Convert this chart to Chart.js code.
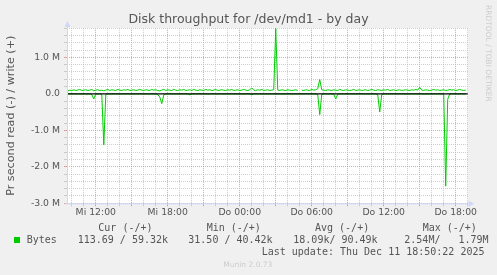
<!DOCTYPE html>
<html>
<head>
<meta charset="utf-8">
<title>Disk throughput for /dev/md1 - by day</title>
<script src="https://cdn.jsdelivr.net/npm/chart.js@4.4.1/dist/chart.umd.min.js"></script>
<style>
  html, body { margin: 0; padding: 0; background: #f0f0f0; }
  #wrap { position: relative; width: 497px; height: 275px; }
</style>
</head>
<body>
<div id="wrap"><canvas id="chart" width="497" height="275"></canvas></div>
<script>
// time axis: hours relative to Do 00:00, one sample every 10 minutes
const startHour = -14.5;
const stepHours = 1 / 6;

const labelHours = [-12, -6, 0, 6, 12, 18];
const labelTexts = ['Mi 12:00', 'Mi 18:00', 'Do 00:00', 'Do 06:00', 'Do 12:00', 'Do 18:00'];

// bytes per second, in M (write = +, read = -)
const writeValues = [
  0.07, 0.08, 0.10, 0.09, 0.11, 0.09, 0.10, 0.12, 0.09, 0.10,
  0.11, 0.09, 0.10, 0.12, 0.08, 0.10, 0.11, 0.09, 0.10, 0.08,
  0.10, 0.12, 0.09, 0.11, 0.10, 0.09, 0.12, 0.10, 0.09, 0.11,
  0.10, 0.12, 0.09, 0.10, 0.11, 0.09, 0.10, 0.12, 0.10, 0.09,
  0.11, 0.10, 0.09, 0.12, 0.10, 0.11, 0.09, 0.08, 0.10, 0.12,
  0.09, 0.11, 0.10, 0.09, 0.12, 0.10, 0.09, 0.11, 0.10, 0.12,
  0.09, 0.10, 0.11, 0.09, 0.12, 0.10, 0.09, 0.11, 0.10, 0.09,
  0.12, 0.10, 0.11, 0.09, 0.10, 0.12, 0.09, 0.10, 0.11, 0.10,
  0.09, 0.11, 0.10, 0.12, 0.09, 0.10, 0.11, 0.09, 0.10, 0.12,
  0.10, 0.09, 0.11, 0.16, 0.10, 0.09, 0.11, 0.10, 0.12, 0.09,
  0.10, 0.11, 0.09, 0.10, 0.11, 1.79, 0.10, 0.09, 0.11, 0.10,
  0.09, 0.11, 0.10, 0.09, 0.10, 0.11, 0.09, null, 0.10, 0.09,
  0.11, 0.10, 0.09, 0.12, 0.10, 0.11, 0.14, 0.39, 0.11, 0.10,
  0.09, 0.11, 0.10, 0.09, 0.11, 0.10, 0.09, 0.12, 0.10, 0.09,
  0.11, 0.10, 0.09, 0.10, 0.12, 0.09, 0.10, 0.11, 0.09, 0.10,
  0.11, 0.09, 0.10, 0.12, 0.10, 0.09, 0.11, 0.10, 0.09, 0.11,
  0.10, 0.12, 0.09, 0.10, 0.11, 0.09, 0.10, 0.11, 0.09, 0.10,
  0.11, 0.10, 0.09, 0.11, 0.10, 0.12, 0.10, 0.18, 0.10, 0.09,
  0.11, 0.10, 0.09, 0.10, 0.12, 0.10, 0.11, 0.09, 0.10, 0.11,
  0.09, 0.10, 0.12, 0.10, 0.11, 0.09, 0.10, 0.12, 0.10, 0.09,
  0.10
];
const readValues = [
  -0.004, -0.003, -0.005, -0.004, -0.003, -0.004, -0.005, -0.003, -0.004, -0.004,
  -0.003, -0.005, -0.004, -0.02, -0.14, -0.01, -0.004, -0.003, -0.02, -1.40,
  -0.02, -0.004, -0.003, -0.005, -0.004, -0.003, -0.004, -0.005, -0.003, -0.004,
  -0.004, -0.003, -0.005, -0.004, -0.003, -0.004, -0.005, -0.003, -0.004, -0.004,
  -0.003, -0.005, -0.004, -0.003, -0.004, -0.005, -0.02, -0.09, -0.27, -0.03,
  -0.004, -0.003, -0.005, -0.004, -0.003, -0.004, -0.005, -0.003, -0.004, -0.004,
  -0.003, -0.005, -0.03, -0.004, -0.003, -0.004, -0.005, -0.003, -0.004, -0.004,
  -0.004, -0.003, -0.005, -0.004, -0.003, -0.004, -0.005, -0.003, -0.004, -0.004,
  -0.004, -0.003, -0.005, -0.004, -0.003, -0.004, -0.005, -0.003, -0.004, -0.004,
  -0.004, -0.003, -0.005, -0.03, -0.004, -0.003, -0.004, -0.005, -0.003, -0.004,
  -0.004, -0.003, -0.005, -0.004, -0.003, -0.004, -0.005, -0.003, -0.004, -0.004,
  -0.004, -0.003, -0.005, -0.004, -0.003, -0.004, -0.005, -0.003, -0.004, -0.004,
  -0.004, -0.003, -0.005, -0.004, -0.003, -0.004, -0.02, -0.57, -0.02, -0.004,
  -0.003, -0.005, -0.004, -0.003, -0.01, -0.14, -0.01, -0.003, -0.004, -0.004,
  -0.004, -0.003, -0.005, -0.004, -0.003, -0.004, -0.005, -0.003, -0.004, -0.004,
  -0.004, -0.003, -0.005, -0.004, -0.003, -0.004, -0.02, -0.50, -0.02, -0.004,
  -0.004, -0.003, -0.005, -0.004, -0.003, -0.004, -0.005, -0.003, -0.004, -0.004,
  -0.004, -0.003, -0.005, -0.004, -0.003, -0.004, -0.005, -0.003, -0.004, -0.004,
  -0.004, -0.003, -0.005, -0.004, -0.003, -0.004, -0.005, -0.003, -0.004, -0.004,
  -2.53, -0.15, -0.004, -0.003, -0.005, -0.004, -0.003, -0.004, -0.005, -0.003,
  -0.004
];

// legend table below the graph
const legendHeaders = ['Cur (-/+)', 'Min (-/+)', 'Avg (-/+)', 'Max (-/+)'];
const legendValues = ['113.69 / 59.32k', '31.50 / 40.42k', '18.09k/ 90.49k', '2.54M/   1.79M'];
const seriesName = 'Bytes';
const titleText = 'Disk throughput for /dev/md1 - by day';
const lastUpdate = 'Last update: Thu Dec 11 18:50:22 2025';
const version = 'Munin 2.0.73';
const watermark = 'RRDTOOL / TOBI OETIKER';

const GREEN = '#00cc00';
const FONT_COLOR = '#555555';
const AXIS_COLOR = '#cfd6f8';
const MINOR_GRID = 'rgba(190,190,190,0.75)';
const MAJOR_GRID = 'rgba(225,130,130,0.75)';

const toPoints = (vals) => vals.map((v, i) => ({ x: startHour + i * stepHours, y: v }));
const isWhole = (v) => Math.abs(v - Math.round(v)) < 1e-6;

// canvas background + white plot area
const backgroundPlugin = {
  id: 'muninBackground',
  beforeDraw(chart) {
    const { ctx, chartArea: a } = chart;
    ctx.save();
    ctx.fillStyle = '#f0f0f0';
    ctx.fillRect(0, 0, chart.width, chart.height);
    ctx.fillStyle = '#ffffff';
    ctx.fillRect(a.left, a.top, a.right - a.left, a.bottom - a.top);
    ctx.restore();
  }
};

// black zero line on top of the data, axis arrows, title, legend text
const muninPlugin = {
  id: 'muninExtras',
  afterDatasetsDraw(chart) {
    const { ctx, chartArea: a } = chart;
    const y0 = chart.scales.y.getPixelForValue(0);
    ctx.save();
    ctx.strokeStyle = '#000000';
    ctx.lineWidth = 1.2;
    ctx.beginPath();
    ctx.moveTo(a.left, y0);
    ctx.lineTo(a.right, y0);
    ctx.stroke();
    ctx.restore();
  },
  afterDraw(chart) {
    const { ctx, chartArea: a } = chart;
    ctx.save();
    // axis lines with arrows
    ctx.strokeStyle = AXIS_COLOR;
    ctx.fillStyle = AXIS_COLOR;
    ctx.lineWidth = 1;
    ctx.beginPath();
    ctx.moveTo(a.left + 0.5, a.bottom);
    ctx.lineTo(a.left + 0.5, a.top - 3);
    ctx.moveTo(a.left - 2, a.bottom + 0.5);
    ctx.lineTo(a.right + 3, a.bottom + 0.5);
    ctx.stroke();
    ctx.beginPath();
    ctx.moveTo(a.left + 0.5, a.top - 7);
    ctx.lineTo(a.left - 2.5, a.top - 1);
    ctx.lineTo(a.left + 3.5, a.top - 1);
    ctx.closePath();
    ctx.fill();
    ctx.beginPath();
    ctx.moveTo(a.right + 6.5, a.bottom + 0.5);
    ctx.lineTo(a.right + 1, a.bottom - 2.5);
    ctx.lineTo(a.right + 1, a.bottom + 3.5);
    ctx.closePath();
    ctx.fill();

    // title, centred on the whole image
    ctx.fillStyle = FONT_COLOR;
    ctx.font = '12.5px "DejaVu Sans"';
    ctx.textAlign = 'center';
    ctx.textBaseline = 'middle';
    ctx.fillText(titleText, 248.5, 19.5);

    // legend
    ctx.fillStyle = GREEN;
    ctx.fillRect(14, 237, 6, 6);
    ctx.fillStyle = FONT_COLOR;
    ctx.font = '10px "DejaVu Sans Mono"';
    ctx.textAlign = 'left';
    ctx.textBaseline = 'alphabetic';
    const headerX = [98.3, 206.7, 315, 422.7];
    const valueX = [77.7, 188.3, 293.3, 404.3];
    legendHeaders.forEach((t, i) => ctx.fillText(t, headerX[i], 231));
    ctx.fillText(seriesName, 26.7, 243);
    legendValues.forEach((t, i) => ctx.fillText(t, valueX[i], 243));
    ctx.fillText(lastUpdate, 261.7, 255);

    ctx.fillStyle = '#cccccc';
    ctx.font = '7.5px "DejaVu Sans"';
    ctx.fillText(version, 223.3, 267);

    // vertical watermark on the right
    ctx.translate(485.5, 5);
    ctx.rotate(Math.PI / 2);
    ctx.fillText(watermark, 0, 0);
    ctx.restore();
  }
};

new Chart(document.getElementById('chart'), {
  type: 'line',
  data: {
    datasets: [
      {
        label: 'read',
        data: toPoints(readValues),
        borderColor: GREEN,
        borderWidth: 1,
        pointRadius: 0,
        tension: 0,
        spanGaps: false
      },
      {
        label: 'write',
        data: toPoints(writeValues),
        borderColor: GREEN,
        borderWidth: 1,
        pointRadius: 0,
        tension: 0,
        spanGaps: false
      }
    ]
  },
  options: {
    responsive: false,
    animation: false,
    devicePixelRatio: 1,
    layout: { padding: { left: 0, right: 29.3, top: 28.1, bottom: 51.7 } },
    plugins: {
      legend: { display: false },
      tooltip: { enabled: false },
      title: { display: false }
    },
    scales: {
      x: {
        type: 'linear',
        min: -14.4,
        max: 19.0,
        afterFit: (scale) => { scale.height = 20; },
        border: { display: false, dash: [1, 1] },
        grid: {
          color: (ctx) => (ctx.tick && ctx.tick.value % 3 === 0 ? MAJOR_GRID : MINOR_GRID),
          tickLength: 3,
          lineWidth: 1
        },
        ticks: {
          stepSize: 1,
          autoSkip: false,
          includeBounds: false,
          maxRotation: 0,
          padding: 1,
          color: FONT_COLOR,
          font: { family: '"DejaVu Sans"', size: 9.3 },
          callback: (v) => {
            const i = labelHours.indexOf(Math.round(v));
            return i >= 0 && isWhole(v) ? labelTexts[i] : '';
          }
        }
      },
      y: {
        min: -3.0,
        max: 1.8,
        afterFit: (scale) => { scale.width = 67; },
        border: { display: false, dash: [1, 1] },
        grid: {
          color: (ctx) => {
            if (!ctx.tick) return MINOR_GRID;
            if (Math.abs(ctx.tick.value) < 1e-6) return 'rgba(0,0,0,0)';
            return isWhole(ctx.tick.value) ? MAJOR_GRID : MINOR_GRID;
          },
          tickLength: 3,
          lineWidth: 1
        },
        ticks: {
          stepSize: 0.2,
          autoSkip: false,
          padding: 4,
          color: FONT_COLOR,
          font: { family: '"DejaVu Sans"', size: 9.3 },
          callback: (v) => {
            if (!isWhole(v)) return '';
            const r = Math.round(v);
            return r === 0 ? '0.0' : r.toFixed(1) + ' M';
          }
        },
        title: {
          display: true,
          text: 'Pr second read (-) / write (+)',
          color: FONT_COLOR,
          font: { family: '"DejaVu Sans"', size: 11.2 },
          padding: { top: 4.3, bottom: 0 }
        }
      }
    }
  },
  plugins: [backgroundPlugin, muninPlugin]
});
</script>
</body>
</html>
